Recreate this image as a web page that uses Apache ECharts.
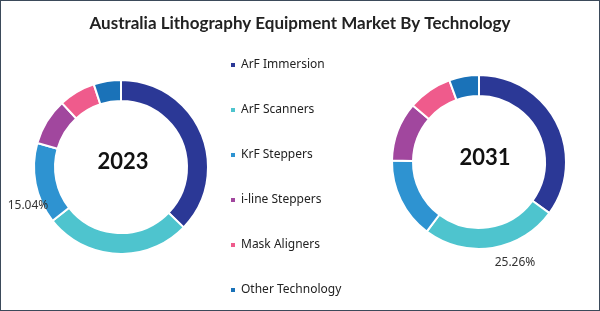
<!DOCTYPE html>
<html>
<head>
<meta charset="utf-8">
<script src="https://cdn.jsdelivr.net/npm/echarts@6/dist/echarts.min.js"></script>
<style>
  html, body { margin: 0; padding: 0; background: #fff; }
  #chart { width: 600px; height: 311px; box-sizing: border-box; border: 1px solid #3b4a5a; }
</style>
</head>
<body>
<div id="chart"></div>
<script>
// 数据
var technologies = ['ArF Immersion', 'ArF Scanners', 'KrF Steppers', 'i-line Steppers', 'Mask Aligners', 'Other Technology']
var share2023 = [37.2, 27.2, 15.04, 8.7, 6.8, 5.06]
var share2031 = [35.0, 25.26, 15.0, 11.0, 8.2, 5.54]
var colors = ['#2b3896', '#4ec4ce', '#2e93d1', '#a1479e', '#ef5b8c', '#1a72b8']
// which slice gets a label in each ring
var label2023 = 'KrF Steppers'
var label2031 = 'ArF Scanners'

function buildData (values, labelName) {
  return technologies.map(function (name, i) {
    return {
      name: name,
      value: values[i],
      label: { show: name === labelName }
    }
  })
}

var chart = echarts.init(document.getElementById('chart'))

var ringStyle = {
  type: 'pie',
  radius: [66, 87],
  startAngle: 90,
  clockwise: true,
  avoidLabelOverlap: false,
  itemStyle: { borderColor: '#fff', borderWidth: 2 },
  label: {
    position: 'outside',
    formatter: '{c}%',
    color: '#333',
    fontSize: 12,
    fontFamily: 'Noto Sans'
  },
  labelLine: { show: false, length: 4, length2: 0 },
  emphasis: { disabled: true }
}

chart.setOption({
  color: colors,
  animation: false,
  title: {
    text: 'Australia Lithography Equipment Market By Technology',
    left: 'center',
    top: 9,
    textStyle: { fontFamily: 'Lato', fontWeight: 'bold', fontSize: 17, color: '#222' }
  },
  legend: {
    orient: 'vertical',
    left: 223,
    top: 53,
    itemWidth: 6,
    itemHeight: 6,
    itemGap: 33,
    icon: 'rect',
    data: technologies,
    textStyle: { fontFamily: 'Noto Sans', fontSize: 12, color: '#222' }
  },
  graphic: [
    { type: 'text', x: 122, y: 161, style: { text: '2023', font: 'bold 22px Lato', fill: '#111', align: 'center', verticalAlign: 'middle' } },
    { type: 'text', x: 484, y: 157, style: { text: '2031', font: 'bold 22px Lato', fill: '#111', align: 'center', verticalAlign: 'middle' } }
  ],
  series: [
    Object.assign({}, ringStyle, {
      name: '2023',
      center: [120, 166],
      data: buildData(share2023, label2023),
      labelLayout: { x: 27, y: 205, align: 'center', verticalAlign: 'middle' }
    }),
    Object.assign({}, ringStyle, {
      name: '2031',
      center: [478, 161],
      data: buildData(share2031, label2031),
      labelLayout: { x: 514, y: 262, align: 'center', verticalAlign: 'middle' }
    })
  ]
})
</script>
</body>
</html>
